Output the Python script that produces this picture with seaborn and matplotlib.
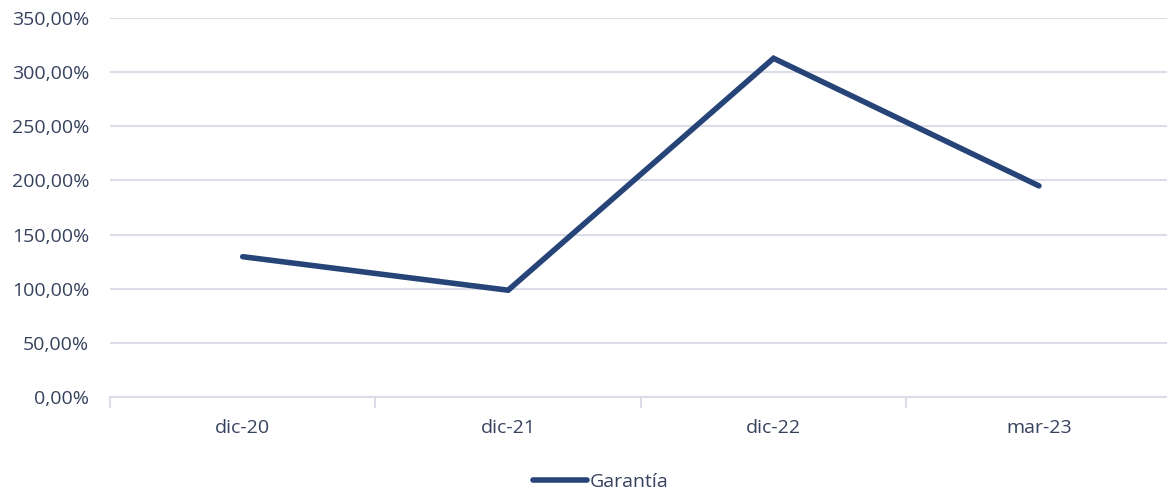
import matplotlib
matplotlib.use("Agg")
import matplotlib.pyplot as plt
import seaborn as sns
import pandas as pd
from matplotlib.ticker import FuncFormatter, FixedLocator

categorias = ["dic-20", "dic-21", "dic-22", "mar-23"]
garantia = [129.5, 98.5, 313.0, 195.0]
serie = "Garantía"
y_ticks = [0, 50, 100, 150, 200, 250, 300, 350]

df = pd.DataFrame({"fecha": categorias, "valor": garantia, "serie": serie})

sns.set_theme(style="white")
plt.rcParams["font.family"] = ["Open Sans", "DejaVu Sans"]

text_color = "#36425e"
grid_color = "#dcdde9"
line_color = "#264478"

fig = plt.figure(figsize=(11.67, 4.91), dpi=100)
ax = fig.add_axes([110 / 1167, 1 - 396.7 / 491, 1 - 110 / 1167 + 0.004, (396.7 - 18.3) / 491])

sns.lineplot(data=df, x="fecha", y="valor", hue="serie", palette=[line_color],
             sort=False, linewidth=4, ax=ax, solid_capstyle="round",
             solid_joinstyle="miter")

ax.set_xlim(-0.5, 3.5)
ax.set_ylim(0, 350)
ax.set_yticks(y_ticks)
ax.yaxis.set_major_formatter(FuncFormatter(lambda v, p: f"{v:.2f}".replace(".", ",") + "%"))
ax.grid(axis="y", color=grid_color, linewidth=1.5)
ax.set_axisbelow(True)
for s in ["top", "right", "left"]:
    ax.spines[s].set_visible(False)
ax.spines["bottom"].set_color(grid_color)
ax.spines["bottom"].set_linewidth(1.5)

ax.set_xlabel("")
ax.set_ylabel("")
ax.tick_params(axis="y", length=0, labelsize=14, labelcolor=text_color, pad=15)
ax.tick_params(axis="x", which="major", bottom=True, length=0, labelsize=14,
               labelcolor=text_color, pad=16)
ax.xaxis.set_minor_locator(FixedLocator([-0.5, 0.5, 1.5, 2.5, 3.5]))
ax.tick_params(axis="x", which="minor", bottom=True, length=8, color=grid_color, width=1.5)

leg = ax.legend(loc="upper center", bbox_to_anchor=(0.5 - 0.038, -0.18), frameon=False,
                fontsize=14, handlelength=2.8, handletextpad=0.1, borderaxespad=0)
for t in leg.get_texts():
    t.set_color(text_color)

fig.savefig("out.png", dpi=100)
